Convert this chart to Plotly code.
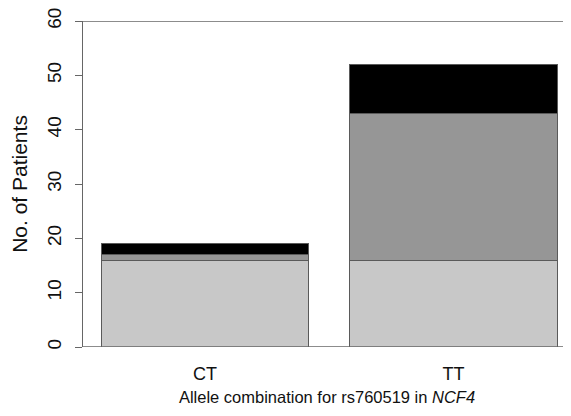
import plotly.graph_objects as go

categories = ["CT", "TT"]
seg_light = [16, 16]
seg_mid = [1, 27]
seg_black = [2, 9]
y_ticks = [0, 10, 20, 30, 40, 50, 60]

font_family = "Liberation Sans, Arial, sans-serif"
edge = "#5a5a5a"

fig = go.Figure()
for vals, col in [(seg_light, "#c8c8c8"), (seg_mid, "#969696"), (seg_black, "#000000")]:
    fig.add_trace(go.Bar(
        x=categories, y=vals, width=0.835,
        marker=dict(color=col, line=dict(color=edge, width=1)),
        showlegend=False, hoverinfo="skip",
    ))

fig.update_layout(
    barmode="stack",
    width=563, height=408,
    margin=dict(l=75, r=0, t=13, b=69),
    paper_bgcolor="white", plot_bgcolor="white",
    font=dict(family=font_family, size=17, color="#111111"),
    xaxis=dict(
        range=[-0.491, 1.473], automargin=False,
        showgrid=False, zeroline=False, showline=False,
        ticks="outside", ticklen=10, tickcolor="rgba(0,0,0,0)",
        tickfont=dict(size=18),
        title=dict(text="Allele combination for rs760519 in <i>NCF4</i>",
                   font=dict(size=16.5), standoff=8),
    ),
    yaxis=dict(
        range=[0, 60], automargin=False,
        tickvals=y_ticks,
        showgrid=False, zeroline=False,
        showline=True, linecolor="#666666", linewidth=1,
        ticks="outside", ticklen=7, tickcolor="#666666",
        ticklabelstandoff=6, ticklabeloverflow="allow",
        tickangle=-90, tickfont=dict(size=19),
        title=dict(text="No. of Patients", font=dict(size=21), standoff=12),
    ),
    shapes=[
        dict(type="line", xref="paper", yref="y", x0=0, x1=1, y0=60, y1=60,
             line=dict(color="#666666", width=1.5)),
        dict(type="line", xref="paper", yref="y", x0=0, x1=1, y0=0, y1=0,
             line=dict(color="#666666", width=1.5)),
    ],
)

fig.write_html("out.html")
